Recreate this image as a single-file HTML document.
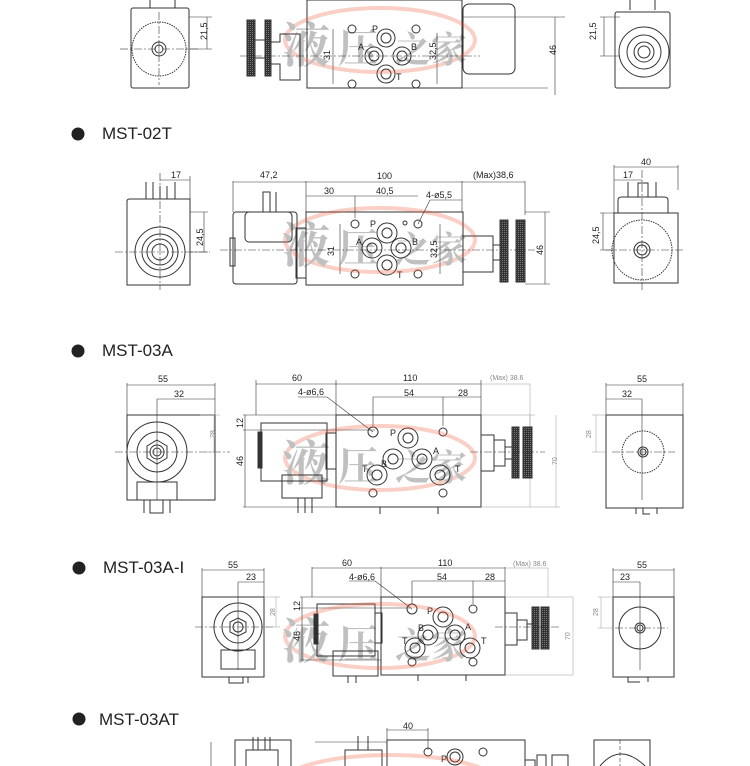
<!DOCTYPE html>
<html><head><meta charset="utf-8"><style>
html,body{margin:0;padding:0;background:#fff;width:750px;height:766px;overflow:hidden;}
svg{display:block;}
text{font-family:"Liberation Sans",sans-serif;fill:#222;}
.d{font-size:9px;}
.g{font-size:7px;fill:#888;}
.h{font-size:17px;fill:#222;}
.wm{font-family:"Liberation Serif","Noto Serif CJK SC",serif;font-weight:bold;}
</style></head><body>
<svg width="750" height="766" viewBox="0 0 750 766" xmlns="http://www.w3.org/2000/svg">
<defs>
<pattern id="kn" width="2" height="2" patternUnits="userSpaceOnUse"><rect width="2" height="2" fill="#333"/><rect width="1" height="1" fill="#777"/></pattern>
<clipPath id="c"><rect width="750" height="766"/></clipPath>
</defs>
<g clip-path="url(#c)">
<g fill="none" stroke="#333" stroke-width="1">

<path d="M150 0 V8 M175 0 V8"/>
<rect x="131" y="8" width="58" height="80" rx="2"/>
<line x1="137" y1="8" x2="183" y2="8"/>
<circle cx="159" cy="49" r="27" stroke-dasharray="1.5 1"/>
<circle cx="159" cy="49" r="7"/><circle cx="159" cy="49" r="4"/>
<line x1="120" y1="49" x2="200" y2="49" stroke-dasharray="8 2 2 2" stroke-width=".6"/>
<line x1="159" y1="12" x2="159" y2="85" stroke-dasharray="8 2 2 2" stroke-width=".6"/>
<path d="M189 17 H212 M189 49 H212 M207 17 V49" stroke-width=".6"/>
<rect x="247" y="20" width="8" height="56" fill="url(#kn)"/>
<rect x="265" y="20" width="6" height="56" fill="url(#kn)"/>
<path d="M255 40 H265 M255 58 H265 M271 42 H280 V34 H300 V80 H280 V64 H271"/>
<rect x="307" y="0" width="155" height="88"/>
<circle cx="352" cy="29" r="4"/><circle cx="416" cy="29" r="4"/><circle cx="352" cy="84" r="4"/><circle cx="416" cy="84" r="4"/>
<circle cx="386" cy="38" r="9"/><circle cx="386" cy="38" r="5"/>
<circle cx="374" cy="56" r="9"/><circle cx="374" cy="56" r="5"/>
<circle cx="402" cy="56" r="9"/><circle cx="402" cy="56" r="5"/>
<circle cx="386" cy="74" r="9"/><circle cx="386" cy="74" r="5"/>
<path d="M333 29 V84 M437 33 V84" stroke-width=".6"/>
<rect x="463" y="4" width="52" height="70" rx="6"/>
<path d="M462 88 H548 M462 17 H565 M555 17 V95" stroke-width=".6"/>
<line x1="240" y1="56" x2="480" y2="56" stroke-dasharray="8 2 2 2" stroke-width=".6"/>
<path d="M630 0 V10 M655 0 V10"/>
<rect x="615" y="12" width="55" height="76" rx="2"/>
<circle cx="644" cy="52" r="25"/><circle cx="644" cy="52" r="17"/><circle cx="644" cy="52" r="10"/><circle cx="644" cy="52" r="6"/>
<path d="M600 17 H620 M600 56 H620 M604 17 V56" stroke-width=".6"/>

<path d="M127 201 Q127 199 130 199 H190 V285 H127 Z"/>
<path d="M146 199 V182 M153 199 V182 M160 199 V186 M167 199 V186 M175 199 V182"/>
<path d="M160 173 V290 M115 252 H210" stroke-dasharray="8 2 2 2" stroke-width=".6"/>
<circle cx="160" cy="252" r="25"/><circle cx="160" cy="252" r="18"/><circle cx="160" cy="252" r="13"/><circle cx="160" cy="252" r="8"/>
<path d="M160 180 H190 M190 176 V199 M190 212 H208 M190 252 H208 M204 212 V252" stroke-width=".6"/>

<rect x="233" y="212" width="64" height="72" rx="3"/>
<rect x="245" y="212" width="47" height="30" rx="4"/>
<path d="M263 212 V192 H270 V212 M276 212 V192"/>
<rect x="296" y="228" width="10" height="50"/>
<rect x="230" y="238" width="5" height="28"/>
<rect x="306" y="212" width="157" height="73"/>
<circle cx="355" cy="224" r="4"/><circle cx="418" cy="224" r="4"/><circle cx="355" cy="274" r="4"/><circle cx="418" cy="274" r="4"/><circle cx="405" cy="223" r="2"/>
<circle cx="387" cy="233" r="10"/><circle cx="387" cy="233" r="5"/>
<circle cx="372" cy="248" r="10"/><circle cx="372" cy="248" r="5"/>
<circle cx="401" cy="248" r="10"/><circle cx="401" cy="248" r="5"/>
<circle cx="387" cy="265" r="10"/><circle cx="387" cy="265" r="5"/>
<path d="M340 224 V274 M440 224 V274 M418 224 L430 200 H462" stroke-width=".6"/>
<path d="M233 181 V212 M306 181 V212 M462 181 V212 M525 181 V215 M233 182 H525 M306 196 H418 M355 196 V218" stroke-width=".6"/>
<rect x="463" y="236" width="30" height="36"/>
<path d="M493 245 H500 V260 H493"/>
<rect x="500" y="220" width="8" height="62" fill="url(#kn)"/>
<rect x="516" y="220" width="9" height="62" fill="url(#kn)"/>
<path d="M525 212 H550 M525 284 H550 M545 212 V284" stroke-width=".6"/>
<line x1="220" y1="250" x2="535" y2="250" stroke-dasharray="8 2 2 2" stroke-width=".6"/>

<rect x="614" y="213" width="64" height="70"/>
<path d="M618 213 V200 Q618 197 622 197 H664 Q668 197 668 200 V213"/>
<path d="M628 197 V182 M638 197 V183 H648 V197 M656 197 V182"/>
<circle cx="642" cy="250" r="30" stroke-dasharray="1.5 1"/>
<circle cx="642" cy="250" r="8"/><circle cx="642" cy="250" r="5"/>
<path d="M642 170 V290 M605 250 H685" stroke-dasharray="8 2 2 2" stroke-width=".6"/>
<path d="M614 165 V213 M678 165 V190 M614 167 H678 M614 180 H642 M600 213 H614 M600 250 H614 M603 213 V250" stroke-width=".6"/>

<rect x="127" y="415" width="88" height="85"/>
<path d="M127 415 V383 M215 415 V383 M127 385 H215 M157 399 H215 M157 399 V500" stroke-width=".6"/>
<circle cx="157" cy="452" r="30"/><circle cx="157" cy="452" r="20"/>
<polygon points="157,440 167,446 167,458 157,464 147,458 147,446"/>
<circle cx="157" cy="452" r="7"/><circle cx="157" cy="452" r="4"/>
<rect x="137" y="482" width="40" height="18"/>
<path d="M144 500 V513 M150 500 V513 H163 V500 M170 500 V513"/>
<path d="M115 452 H230" stroke-dasharray="8 2 2 2" stroke-width=".6"/>
<path d="M200 415 H220 M200 452 H220 M214 415 V452" stroke="#999" stroke-width=".5"/>

<rect x="261" y="423" width="66" height="58"/>
<rect x="258" y="432" width="4" height="36" fill="#333"/>
<rect x="326" y="433" width="10" height="36"/>
<rect x="282" y="475" width="40" height="23"/>
<path d="M298 498 V513 M305 498 V513 M312 498 V513"/>
<path d="M243 415 H336 M243 507 H336 M245 415 V507 M243 430 H375" stroke-width=".6"/>
<rect x="336" y="415" width="145" height="92"/>
<path d="M380 507 V514 M438 507 V514"/>
<circle cx="373" cy="432" r="5"/><circle cx="443" cy="432" r="4"/><circle cx="373" cy="493" r="4"/><circle cx="443" cy="493" r="4"/>
<circle cx="408" cy="438" r="10"/><circle cx="408" cy="438" r="5"/>
<circle cx="393" cy="459" r="10"/><circle cx="393" cy="459" r="5"/>
<circle cx="422" cy="459" r="10"/><circle cx="422" cy="459" r="5"/>
<circle cx="377" cy="475" r="10"/><circle cx="377" cy="475" r="5"/>
<circle cx="440" cy="475" r="10"/><circle cx="440" cy="475" r="5"/>
<path d="M256 380 V415 M336 380 V415 M481 380 V415 M256 384 H481 M373 397 H481 M373 397 V426 M443 397 V426 M298 397 H327 L373 432" stroke-width=".6"/>
<path d="M481 384 H530 M530 384 V430 M481 415 H535 M481 507 H560 M530 415 V507" stroke="#999" stroke-width=".5"/>
<path d="M556 415 V507" stroke="#999" stroke-width=".5"/>
<rect x="481" y="435" width="13" height="36"/>
<path d="M494 440 H505 V466 H494 M505 447 H512 V459 H505"/>
<rect x="512" y="427" width="7" height="51" fill="url(#kn)"/>
<rect x="523" y="427" width="9" height="51" fill="url(#kn)"/>
<line x1="470" y1="452" x2="545" y2="452" stroke-dasharray="8 2 2 2" stroke-width=".6"/>

<rect x="606" y="415" width="77" height="93"/>
<path d="M606 415 V383 M683 415 V383 M606 385 H683 M606 399 H642 M642 399 V500" stroke-width=".6"/>
<circle cx="643" cy="452" r="21" stroke-dasharray="1.5 1"/>
<circle cx="643" cy="452" r="5"/><circle cx="643" cy="452" r="3"/>
<path d="M612 452 H675" stroke-dasharray="8 2 2 2" stroke-width=".6"/>
<path d="M636 508 V514 M643 508 V514 H650 M657 508 V514" />
<path d="M592 415 H606 M592 452 H606 M596 415 V452" stroke="#999" stroke-width=".5"/>

<rect x="202" y="597" width="62" height="80"/>
<path d="M202 597 V568 M264 597 V568 M202 570 H264 M238 582 H264 M238 582 V670" stroke-width=".6"/>
<circle cx="238" cy="627" r="24"/><circle cx="238" cy="627" r="16"/>
<polygon points="238,618 246,622 246,632 238,636 230,632 230,622"/>
<circle cx="238" cy="627" r="5"/>
<rect x="221" y="650" width="34" height="19"/>
<path d="M229 677 V683 H243 V677 M248 677 V683"/>
<path d="M195 627 H275" stroke-dasharray="8 2 2 2" stroke-width=".6"/>
<path d="M264 597 H280 M264 627 H280 M276 597 V627" stroke="#999" stroke-width=".5"/>

<rect x="317" y="604" width="58" height="52"/>
<rect x="314" y="614" width="4" height="30" fill="#333"/>
<rect x="375" y="613" width="7" height="30"/>
<rect x="333" y="651" width="45" height="25"/>
<path d="M348 676 V683 M356 676 V683"/>
<path d="M300 597 H381 M300 660 H381 M302 597 V660 M300 608 H410" stroke-width=".6"/>
<rect x="381" y="597" width="124" height="78"/>
<path d="M418 675 V681 M466 675 V681"/>
<circle cx="412" cy="609" r="5"/><circle cx="473" cy="609" r="4"/><circle cx="412" cy="662" r="4"/><circle cx="473" cy="662" r="4"/>
<circle cx="443" cy="617" r="10"/><circle cx="443" cy="617" r="5"/>
<circle cx="428" cy="635" r="10"/><circle cx="428" cy="635" r="5"/>
<circle cx="455" cy="635" r="10"/><circle cx="455" cy="635" r="5"/>
<circle cx="415" cy="648" r="10"/><circle cx="415" cy="648" r="5"/>
<circle cx="470" cy="648" r="10"/><circle cx="470" cy="648" r="5"/>
<path d="M312 567 V597 M381 567 V597 M505 567 V597 M312 568 H505 M412 581 H505 M412 581 V604 M473 581 V604 M349 581 H375 L412 609" stroke-width=".6"/>
<path d="M505 568 H548 M548 568 V597 M505 597 H573 M505 675 H573 M573 597 V675" stroke="#999" stroke-width=".5"/>
<rect x="505" y="613" width="12" height="32"/>
<path d="M517 620 H527 V640 H517 M527 624 H533 V636"/>
<rect x="532" y="607" width="7" height="42" fill="url(#kn)"/>
<rect x="541" y="607" width="8" height="42" fill="url(#kn)"/>
<line x1="495" y1="627" x2="560" y2="627" stroke-dasharray="8 2 2 2" stroke-width=".6"/>

<rect x="613" y="597" width="61" height="80"/>
<path d="M613 597 V568 M674 597 V568 M613 570 H674 M613 582 H640 M640 582 V670" stroke-width=".6"/>
<circle cx="640" cy="628" r="21"/>
<circle cx="640" cy="628" r="5"/><circle cx="640" cy="628" r="3"/>
<path d="M615 628 H668" stroke-dasharray="8 2 2 2" stroke-width=".6"/>
<path d="M628 677 V682 H640 M648 677 V682"/>
<path d="M598 597 H613 M598 628 H613 M601 597 V628" stroke="#999" stroke-width=".5"/>

<path d="M211 742 V766" stroke-width=".6"/>
<path d="M235 766 V740 H291 V766"/>
<path d="M246 766 V750 H278 V766 M253 750 V737 M258 750 V737 M265 750 V737 M270 750 V737"/>
<path d="M315 742 H387" stroke-width=".6"/>
<path d="M345 766 V750 H382 V766 M358 750 V736 M368 750 V736"/>
<path d="M387 766 V740 H525 V766"/>
<path d="M387 730 H428 M387 728 V740 M428 728 V750" stroke-width=".6"/>
<circle cx="428" cy="752" r="4"/><circle cx="483" cy="752" r="4"/>
<circle cx="455" cy="757" r="8"/><circle cx="455" cy="757" r="5"/>
<path d="M525 760 H535 V766 M537 766 V755 H546 V766 M552 766 V755 H568 V766"/>
<path d="M594 766 V740 H650 V766"/>
<path d="M600 766 Q620 742 645 766"/>
<path d="M620 740 V766" stroke-dasharray="4 2" stroke-width=".6"/>
</g>

<g stroke="none">
<text class="d" x="0" y="0" transform="translate(207 40) rotate(-90)">21,5</text>
<text class="d" x="0" y="0" transform="translate(330 60) rotate(-90)">31</text>
<text class="d" x="0" y="0" transform="translate(436 60) rotate(-90)">32,5</text>
<text class="d" x="0" y="0" transform="translate(556 55) rotate(-90)">46</text>
<text class="d" x="0" y="0" transform="translate(596 40) rotate(-90)">21,5</text>
<text class="d" x="372" y="32">P</text><text class="d" x="358" y="50">A</text><text class="d" x="411" y="50">B</text><text class="d" x="396" y="80">T</text>

<text class="d" x="171" y="178">17</text>
<text class="d" x="0" y="0" transform="translate(203 246) rotate(-90)">24,5</text>
<text class="d" x="260" y="178">47,2</text>
<text class="d" x="377" y="179">100</text>
<text class="d" x="473" y="178">(Max)38,6</text>
<text class="d" x="324" y="194">30</text>
<text class="d" x="376" y="194">40,5</text>
<text class="d" x="426" y="198">4-ø5,5</text>
<text class="d" x="370" y="227">P</text><text class="d" x="356" y="245">A</text><text class="d" x="412" y="245">B</text><text class="d" x="397" y="278">T</text>
<text class="d" x="0" y="0" transform="translate(334 256) rotate(-90)">31</text>
<text class="d" x="0" y="0" transform="translate(437 258) rotate(-90)">32,5</text>
<text class="d" x="0" y="0" transform="translate(543 255) rotate(-90)">46</text>
<text class="d" x="641" y="165">40</text>
<text class="d" x="623" y="178">17</text>
<text class="d" x="0" y="0" transform="translate(599 244) rotate(-90)">24,5</text>

<text class="d" x="158" y="382" font-size="8">55</text>
<text class="d" x="174" y="397" font-size="8">32</text>
<text class="g" x="0" y="0" transform="translate(215 438) rotate(-90)">28</text>
<text class="d" x="292" y="381" font-size="8">60</text>
<text class="d" x="403" y="381" font-size="8">110</text>
<text class="g" x="490" y="380">(Max) 38.6</text>
<text class="d" x="404" y="396" font-size="8">54</text>
<text class="d" x="458" y="396" font-size="8">28</text>
<text class="d" x="298" y="395" font-size="8">4-ø6,6</text>
<text class="d" x="0" y="0" transform="translate(243 428) rotate(-90)" font-size="8">12</text>
<text class="d" x="0" y="0" transform="translate(243 466) rotate(-90)" font-size="8">46</text>
<text class="g" x="0" y="0" transform="translate(557 465) rotate(-90)">70</text>
<text class="d" x="390" y="436" font-size="11">P</text><text class="d" x="381" y="467" font-size="11">B</text><text class="d" x="433" y="454" font-size="11">A</text><text class="d" x="362" y="472" font-size="11">T</text><text class="d" x="455" y="472" font-size="11">T</text>
<text class="d" x="637" y="382" font-size="8">55</text>
<text class="d" x="622" y="397" font-size="8">32</text>
<text class="g" x="0" y="0" transform="translate(591 438) rotate(-90)">28</text>

<text class="d" x="228" y="568" font-size="7">55</text>
<text class="d" x="246" y="580" font-size="7">23</text>
<text class="g" x="0" y="0" transform="translate(275 616) rotate(-90)">28</text>
<text class="d" x="342" y="566" font-size="7">60</text>
<text class="d" x="438" y="566" font-size="7">110</text>
<text class="g" x="513" y="566" font-size="6">(Max) 38.6</text>
<text class="d" x="437" y="580" font-size="7">54</text>
<text class="d" x="485" y="580" font-size="7">28</text>
<text class="d" x="349" y="580" font-size="7">4-ø6,6</text>
<text class="d" x="0" y="0" transform="translate(300 611) rotate(-90)" font-size="7">12</text>
<text class="d" x="0" y="0" transform="translate(300 641) rotate(-90)" font-size="7">46</text>
<text class="g" x="0" y="0" transform="translate(570 640) rotate(-90)">70</text>
<text class="d" x="427" y="614" font-size="10">P</text><text class="d" x="418" y="631" font-size="10">B</text><text class="d" x="465" y="630" font-size="10">A</text><text class="d" x="402" y="644" font-size="10">T</text><text class="d" x="481" y="644" font-size="10">T</text>
<text class="d" x="620" y="580" font-size="7">23</text>
<text class="d" x="637" y="568" font-size="7">55</text>
<text class="g" x="0" y="0" transform="translate(598 616) rotate(-90)">28</text>
<text class="d" x="403" y="729" font-size="9">40</text>
<text class="d" x="441" y="762" font-size="9">P</text>
</g>

<g stroke="none">
<circle cx="78" cy="134" r="6.5" fill="#222"/><text class="h" x="102" y="139">MST-02T</text>
<circle cx="78" cy="351" r="6.5" fill="#222"/><text class="h" x="102" y="356">MST-03A</text>
<circle cx="79" cy="568" r="6.5" fill="#222"/><text class="h" x="103" y="573">MST-03A-I</text>
<circle cx="79" cy="719" r="6.5" fill="#222"/><text class="h" x="99" y="725">MST-03AT</text>
</g>

<g opacity="0.28" stroke="none">
 <g>
  <ellipse cx="380" cy="40" rx="95" ry="32" fill="none" stroke="#e53" stroke-width="4"/>
  <text class="wm" x="282" y="62" font-size="48" fill="#4060c8">液</text>
  <text class="wm" x="338" y="62" font-size="40" fill="#e53">压</text>
  <text class="wm" x="395" y="62" font-size="36" fill="#e53">之家</text>
 </g>
 <g transform="translate(0 200)">
  <ellipse cx="380" cy="40" rx="95" ry="32" fill="none" stroke="#e53" stroke-width="4"/>
  <text class="wm" x="282" y="62" font-size="48" fill="#4060c8">液</text>
  <text class="wm" x="338" y="62" font-size="40" fill="#e53">压</text>
  <text class="wm" x="395" y="62" font-size="36" fill="#e53">之家</text>
 </g>
 <g transform="translate(0 418)">
  <ellipse cx="380" cy="40" rx="95" ry="32" fill="none" stroke="#e53" stroke-width="4"/>
  <text class="wm" x="282" y="62" font-size="48" fill="#4060c8">液</text>
  <text class="wm" x="338" y="62" font-size="40" fill="#e53">压</text>
  <text class="wm" x="395" y="62" font-size="36" fill="#e53">之家</text>
 </g>
 <g transform="translate(0 596)">
  <ellipse cx="380" cy="40" rx="95" ry="32" fill="none" stroke="#e53" stroke-width="4"/>
  <text class="wm" x="282" y="62" font-size="48" fill="#4060c8">液</text>
  <text class="wm" x="338" y="62" font-size="40" fill="#e53">压</text>
  <text class="wm" x="395" y="62" font-size="36" fill="#e53">之家</text>
 </g>
 <g transform="translate(-30 745)">
  <ellipse cx="420" cy="40" rx="110" ry="30" fill="none" stroke="#e53" stroke-width="4"/>
 </g>
</g>
</g>
</svg>
</body></html>
